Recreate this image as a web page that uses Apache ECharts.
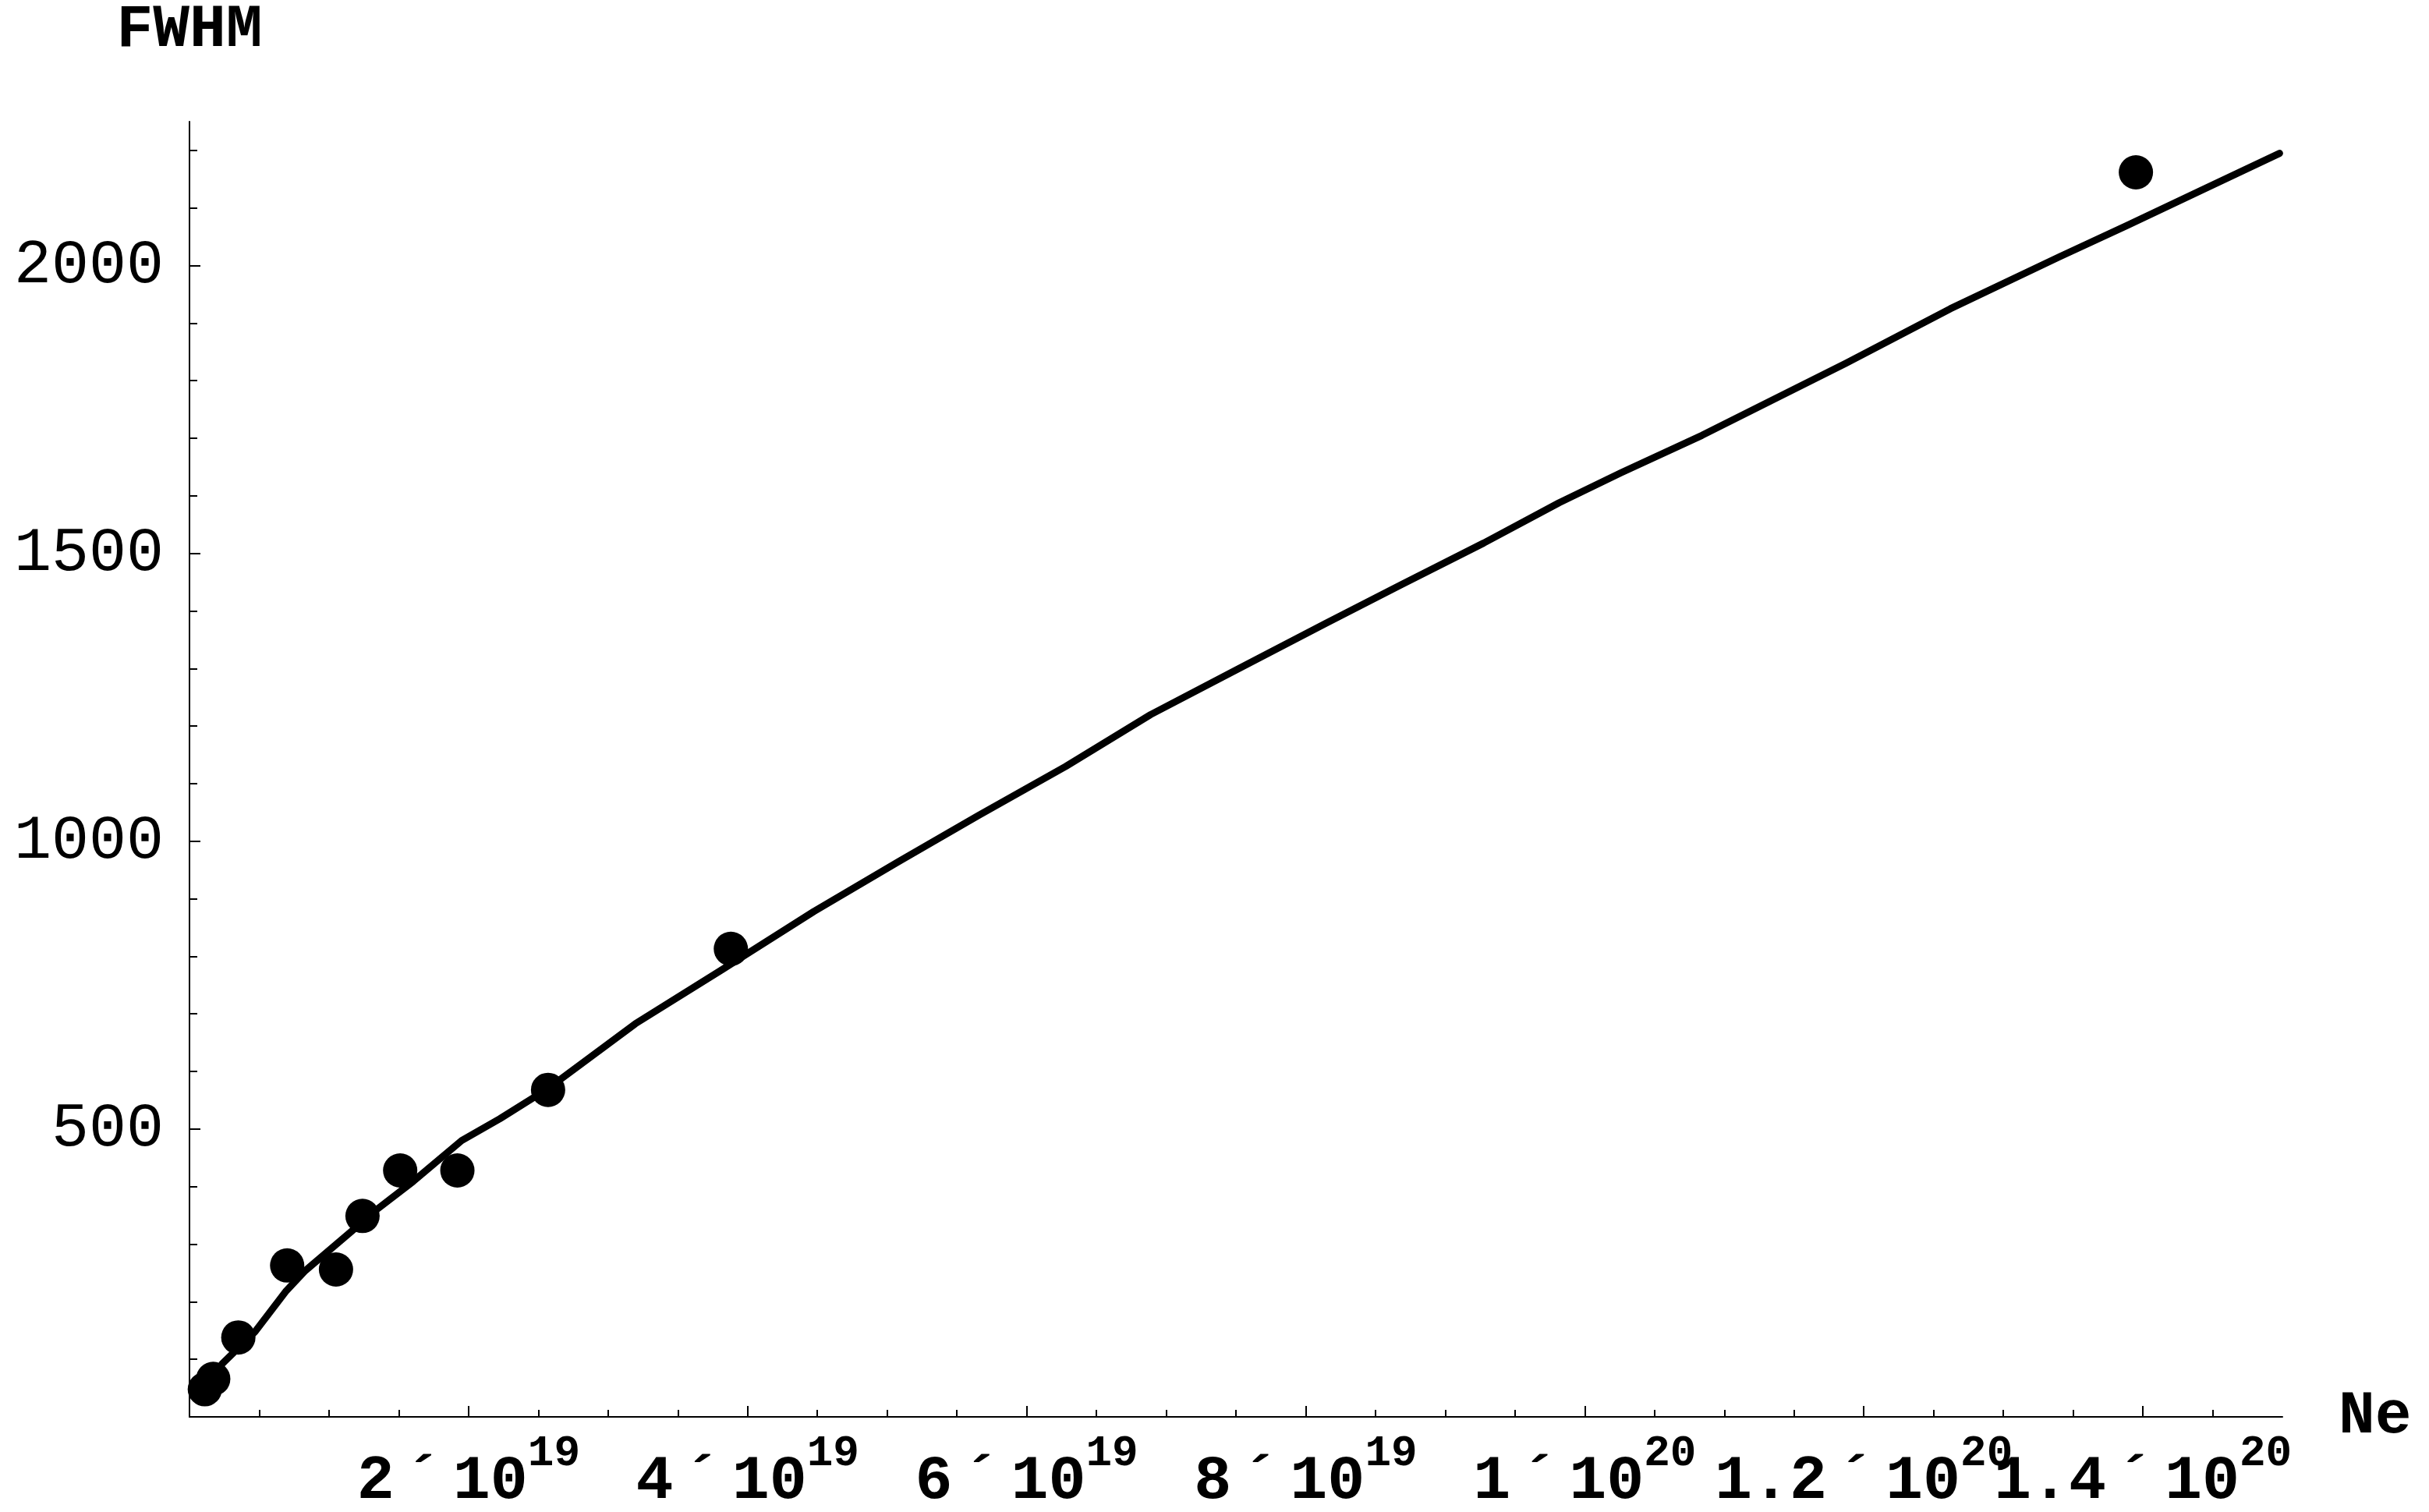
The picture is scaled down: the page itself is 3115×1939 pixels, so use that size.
<!DOCTYPE html>
<html>
<head>
<meta charset="utf-8">
<title>FWHM vs Ne</title>
<script src="https://cdn.jsdelivr.net/npm/echarts@6.0.0/dist/echarts.min.js"></script>
<style>
  html, body { margin: 0; padding: 0; background: #ffffff; }
  #chart { width: 3115px; height: 1939px; }
</style>
</head>
<body>
<div id="chart"></div>
<script>
// measured points
const pointsNe = [0.11e19, 0.17e19, 0.35e19, 0.70e19, 1.05e19, 1.24e19, 1.51e19, 1.92e19, 2.57e19, 3.88e19, 13.95e19]
const pointsFwhm = [48, 66, 138, 263, 256, 349, 428, 428, 568, 813, 2162]

// fitted curve
const curveNe = [
  0.10e19, 0.234e19, 0.47e19, 0.694e19, 0.83e19, 1.155e19, 1.341e19, 1.603e19, 1.951e19,
  2.225e19, 2.574e19, 3.196e19, 3.818e19, 4.475e19, 5.085e19, 5.656e19, 6.28e19, 6.889e19,
  7.53e19, 8.14e19, 8.68e19, 9.276e19, 9.816e19, 10.26e19, 10.84e19, 11.25e19, 11.87e19,
  12.62e19, 13.40e19, 13.89e19, 14.43e19, 14.98e19,
]
const curveFwhm = [
  45, 92, 148, 219, 254, 321, 360, 409, 480,
  518, 571, 683, 777, 878, 965, 1045, 1130, 1220,
  1301, 1378, 1445, 1518, 1588, 1640, 1705, 1755, 1830,
  1925, 2015, 2070, 2132, 2195,
]

// axes
const xTickValues = [2e19, 4e19, 6e19, 8e19, 1e20, 1.2e20, 1.4e20]
const xTickMantissa = ['2', '4', '6', '8', '1', '1.2', '1.4']
const xTickExponent = ['19', '19', '19', '19', '20', '20', '20']
const xMinorTicks = [
  0.5e19, 1e19, 1.5e19, 2.5e19, 3e19, 3.5e19, 4.5e19, 5e19, 5.5e19, 6.5e19, 7e19, 7.5e19,
  8.5e19, 9e19, 9.5e19, 10.5e19, 11e19, 11.5e19, 12.5e19, 13e19, 13.5e19, 14.5e19,
]
const yTickValues = [500, 1000, 1500, 2000]
const yMinorTicks = [100, 200, 300, 400, 600, 700, 800, 900, 1100, 1200, 1300, 1400, 1600, 1700, 1800, 1900, 2100, 2200]

const FONT = 'Liberation Mono'

// x labels: "2´10^19" written with rich text
function xLabel(values) {
  return {
    margin: 20,
    hideOverlap: false,
    showMinLabel: true,
    showMaxLabel: true,
    customValues: values,
    formatter: function (value) {
      const i = xTickValues.findIndex(v => Math.abs(v - value) < 1e15)
      if (i < 0) return ''
      return '{m|' + xTickMantissa[i] + '}{a|´}{m|10}{s|' + xTickExponent[i] + '}'
    },
    rich: {
      m: {
        fontFamily: FONT, fontWeight: 'bold', fontSize: 80, color: '#000',
        lineHeight: 104, verticalAlign: 'bottom',
      },
      a: {
        fontFamily: FONT, fontWeight: 'bold', fontSize: 80, color: '#000',
        lineHeight: 104, verticalAlign: 'bottom', padding: [0, 14, 0, 13],
      },
      s: {
        fontFamily: FONT, fontWeight: 'bold', fontSize: 56, color: '#000',
        lineHeight: 56, verticalAlign: 'top',
      },
    },
  }
}

// extra overlay axis on the same grid (minor ticks or extra labels)
function overlayX(tickValues, tickLength, labelValues) {
  return {
    type: 'value',
    min: 0,
    max: 1.5e20,
    position: 'bottom',
    axisLine: { show: false },
    axisTick: tickValues
      ? { inside: true, length: tickLength, lineStyle: { color: '#000', width: 2 }, customValues: tickValues }
      : { show: false },
    axisLabel: labelValues ? xLabel(labelValues) : { show: false },
    splitLine: { show: false },
  }
}

const chart = echarts.init(document.getElementById('chart'))

const option = {
  animation: false,
  backgroundColor: '#ffffff',
  grid: {
    left: 243,
    right: 188,
    top: 156,
    bottom: 122,
    containLabel: false,
    outerBoundsMode: 'none',
  },
  xAxis: [
    {
      type: 'value',
      min: 0,
      max: 1.5e20,
      name: 'Ne',
      nameLocation: 'end',
      nameGap: 72,
      nameTextStyle: {
        fontFamily: FONT,
        fontWeight: 'bold',
        fontSize: 78,
        color: '#000',
        verticalAlign: 'middle',
      },
      axisLine: { lineStyle: { color: '#000', width: 2 } },
      axisTick: {
        inside: true,
        length: 14,
        lineStyle: { color: '#000', width: 2 },
        customValues: xTickValues,
      },
      // last label sits on its own axis so the two crowded ones are both kept
      axisLabel: xLabel(xTickValues.slice(0, -1)),
      splitLine: { show: false },
    },
    overlayX(xMinorTicks, 9, null),
    overlayX(null, 0, xTickValues.slice(-1)),
  ],
  yAxis: [
    {
      type: 'value',
      min: 0,
      max: 2250,
      name: 'FWHM',
      nameLocation: 'end',
      nameGap: 78,
      nameTextStyle: {
        fontFamily: FONT,
        fontWeight: 'bold',
        fontSize: 78,
        color: '#000',
        align: 'center',
      },
      axisLine: { lineStyle: { color: '#000', width: 2 } },
      axisTick: {
        inside: true,
        length: 14,
        lineStyle: { color: '#000', width: 2 },
        customValues: yTickValues,
      },
      axisLabel: {
        margin: 33,
        hideOverlap: false,
        customValues: yTickValues,
        formatter: value => String(value),
        fontFamily: FONT,
        fontSize: 80,
        color: '#000',
      },
      splitLine: { show: false },
    },
    {
      // minor ticks
      type: 'value',
      min: 0,
      max: 2250,
      position: 'left',
      axisLine: { show: false },
      axisTick: {
        inside: true,
        length: 10,
        lineStyle: { color: '#000', width: 2 },
        customValues: yMinorTicks,
      },
      axisLabel: { show: false },
      splitLine: { show: false },
    },
  ],
  series: [
    {
      name: 'fit',
      type: 'line',
      data: curveNe.map((x, i) => [x, curveFwhm[i]]),
      showSymbol: false,
      lineStyle: { color: '#000', width: 9, cap: 'round', join: 'round' },
      z: 2,
    },
    {
      name: 'measured',
      type: 'scatter',
      data: pointsNe.map((x, i) => [x, pointsFwhm[i]]),
      symbol: 'circle',
      symbolSize: 44,
      itemStyle: { color: '#000', opacity: 1 },
      z: 3,
    },
  ],
}

chart.setOption(option)
</script>
</body>
</html>
